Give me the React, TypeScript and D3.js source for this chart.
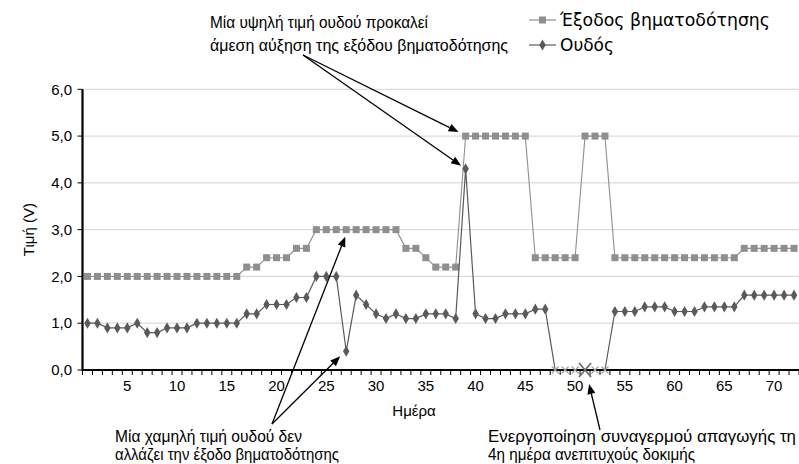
import React from 'react';
import * as d3 from 'd3';

const days: number[] = Array.from({ length: 72 }, (_, i) => i + 1);
const pacingOutput: number[] = [
  2.0, 2.0, 2.0, 2.0, 2.0, 2.0, 2.0, 2.0, 2.0, 2.0, 2.0, 2.0, 2.0, 2.0, 2.0, 2.0,
  2.2, 2.2, 2.4, 2.4, 2.4, 2.6, 2.6,
  3.0, 3.0, 3.0, 3.0, 3.0, 3.0, 3.0, 3.0, 3.0,
  2.6, 2.6, 2.4, 2.2, 2.2, 2.2,
  5.0, 5.0, 5.0, 5.0, 5.0, 5.0, 5.0,
  2.4, 2.4, 2.4, 2.4, 2.4,
  5.0, 5.0, 5.0,
  2.4, 2.4, 2.4, 2.4, 2.4, 2.4, 2.4, 2.4, 2.4, 2.4, 2.4, 2.4, 2.4,
  2.6, 2.6, 2.6, 2.6, 2.6, 2.6,
];
const threshold: number[] = [
  1.0, 1.0, 0.9, 0.9, 0.9, 1.0, 0.8, 0.8, 0.9, 0.9, 0.9, 1.0, 1.0, 1.0, 1.0, 1.0, 1.2, 1.2,
  1.4, 1.4, 1.4, 1.55, 1.55,
  2.0, 2.0, 2.0, 0.4, 1.6, 1.4, 1.2, 1.1, 1.2, 1.1, 1.1, 1.2, 1.2, 1.2, 1.1,
  4.3, 1.2, 1.1, 1.1, 1.2, 1.2, 1.2, 1.3, 1.3,
  0, 0, 0, 0, 0, 0,
  1.25, 1.25, 1.25, 1.35, 1.35, 1.35, 1.25, 1.25, 1.25, 1.35, 1.35, 1.35, 1.35,
  1.6, 1.6, 1.6, 1.6, 1.6, 1.6,
];
const failedDays: number[] = [48, 49, 50, 51, 52, 53];
const alarmDay = 51;
const yTicks: number[] = [0, 1, 2, 3, 4, 5, 6];
const xLabelDays: number[] = [5, 10, 15, 20, 25, 30, 35, 40, 45, 50, 55, 60, 65, 70];
const legendLabels: string[] = ['Έξοδος βηματοδότησης', 'Ουδός'];
const noteHigh: string[] = ['Μία υψηλή τιμή ουδού προκαλεί', 'άμεση αύξηση της εξόδου βηματοδότησης'];
const noteLow: string[] = ['Μία χαμηλή τιμή ουδού δεν', 'αλλάζει την έξοδο βηματοδότησης'];
const noteAlarm: string[] = ['Ενεργοποίηση συναγερμού απαγωγής τη', '4η ημέρα ανεπιτυχούς δοκιμής'];

const W = 799;
const H = 464;
const left = 82.5;
const right = 799;
const top = 89.3;
const bottom = 370;

const FONT = '"Liberation Sans", Arial, sans-serif';
const NARROW = '"Liberation Sans Narrow", "Liberation Sans", sans-serif';
const LEGEND_FONT = '"DejaVu Sans", sans-serif';

const PACE = '#8f8f8f';
const THR = '#5a5a5a';

function Arrow({ x1, y1, x2, y2 }: { x1: number; y1: number; x2: number; y2: number }) {
  const ang = Math.atan2(y2 - y1, x2 - x1);
  const len = 10;
  const half = 4;
  const bx = x2 - len * Math.cos(ang);
  const by = y2 - len * Math.sin(ang);
  const px = -Math.sin(ang) * half;
  const py = Math.cos(ang) * half;
  return (
    <g>
      <line x1={x1} y1={y1} x2={bx} y2={by} stroke="#000" strokeWidth={1.3} />
      <path d={`M${x2},${y2}L${bx + px},${by + py}L${bx - px},${by - py}Z`} fill="#000" />
    </g>
  );
}

function Note({ x, y, text, len }: { x: number; y: number; text: string; len: number }) {
  return (
    <text x={x} y={y} textLength={len} lengthAdjust="spacingAndGlyphs">
      {text}
    </text>
  );
}

export default function App() {
  const x = d3.scaleBand<number>().domain(days).range([left, right]).paddingInner(0).paddingOuter(0);
  const bw = x.bandwidth();
  const cx = (d: number) => (x(d) as number) + bw / 2;
  const y = d3.scaleLinear().domain([0, 6]).range([bottom, top]);

  const line = d3
    .line<number>()
    .x((_, i) => cx(days[i]))
    .y((v) => y(v));

  const diamond = d3.symbol().type(d3.symbolDiamond).size(36)();

  const boundaries = [...days.map((d) => x(d) as number), right];

  return (
    <svg width={W} height={H} style={{ position: 'absolute', left: 0, top: 0, background: '#fff' }}>
      <rect width={W} height={H} fill="#fff" />
      {yTicks.slice(1).map((t) => (
        <line key={t} x1={left} x2={right} y1={y(t)} y2={y(t)} stroke="#dcdcdc" strokeWidth={1.2} />
      ))}

      <path d={line(pacingOutput) as string} fill="none" stroke={PACE} strokeWidth={1.1} />
      {pacingOutput.map((v, i) => (
        <rect key={i} x={cx(days[i]) - 3.5} y={y(v) - 3.5} width={7} height={7} fill={PACE} />
      ))}

      <path d={line(threshold) as string} fill="none" stroke={THR} strokeWidth={1.2} />
      {threshold.map((v, i) =>
        failedDays.includes(days[i]) ? null : (
          <path key={i} d={diamond as string} transform={`translate(${cx(days[i])},${y(v)})`} fill={THR} />
        )
      )}

      <line x1={left} x2={right} y1={bottom} y2={bottom} stroke="#000" strokeWidth={2.2} />
      <line x1={left} x2={left} y1={top} y2={bottom + 1} stroke="#000" strokeWidth={2.2} />
      {boundaries.map((b, i) => (
        <line key={i} x1={b} x2={b} y1={bottom} y2={bottom + 5} stroke="#000" strokeWidth={1} />
      ))}
      {yTicks.map((t) => (
        <line key={t} x1={left - 5} x2={left} y1={y(t)} y2={y(t)} stroke="#000" strokeWidth={1} />
      ))}

      {failedDays
        .filter((d) => d !== alarmDay)
        .map((d) => (
          <g key={d} transform={`translate(${cx(d)},${y(0)})`} stroke="#a0a0a0" strokeWidth={1.1}>
            <line x1={-3.5} y1={-3.5} x2={3.5} y2={3.5} />
            <line x1={-3.5} y1={3.5} x2={3.5} y2={-3.5} />
          </g>
        ))}
      <g transform={`translate(${cx(alarmDay)},${y(0)})`} stroke="#6e6e6e" strokeWidth={1.8}>
        <line x1={-6} y1={-7} x2={6} y2={7} />
        <line x1={-6} y1={7} x2={6} y2={-7} />
      </g>

      {yTicks.map((t) => (
        <text key={t} x={72} y={y(t)} dy="0.35em" textAnchor="end" fontFamily={FONT} fontSize={15} fill="#000">
          {d3.format('.1f')(t).replace('.', ',')}
        </text>
      ))}
      {xLabelDays.map((d) => (
        <text key={d} x={cx(d)} y={391} textAnchor="middle" fontFamily={FONT} fontSize={15} fill="#000">
          {d}
        </text>
      ))}
      <text x={414} y={416} textAnchor="middle" fontFamily={FONT} fontSize={15}>
        Ημέρα
      </text>
      <text transform={`translate(34,${(top + bottom) / 2}) rotate(-90)`} textAnchor="middle" fontFamily={FONT} fontSize={15}>
        Τιμή (V)
      </text>

      <g fontFamily={LEGEND_FONT} fontSize={17}>
        <line x1={529} x2={556} y1={20} y2={20} stroke={PACE} strokeWidth={1.2} />
        <rect x={539} y={16.5} width={7} height={7} fill={PACE} />
        <text x={560} y={20} dy="0.35em" textLength={210} lengthAdjust="spacingAndGlyphs">{legendLabels[0]}</text>
        <line x1={529} x2={556} y1={45} y2={45} stroke={THR} strokeWidth={1.2} />
        <path d={diamond as string} transform="translate(542.5,45)" fill={THR} />
        <text x={560} y={45} dy="0.35em">{legendLabels[1]}</text>
      </g>

      <g fontFamily={NARROW} fontSize={17}>
        <Note x={210} y={28} text={noteHigh[0]} len={218} />
        <Note x={210} y={51} text={noteHigh[1]} len={298} />
        <Note x={115} y={442} text={noteLow[0]} len={187} />
        <Note x={115} y={460} text={noteLow[1]} len={224} />
        <Note x={488} y={442} text={noteAlarm[0]} len={308} />
        <Note x={488} y={460} text={noteAlarm[1]} len={207} />
      </g>

      <Arrow x1={303} y1={55} x2={cx(39) - 7} y2={y(pacingOutput[38]) - 4} />
      <Arrow x1={303} y1={55} x2={cx(39) - 4.5} y2={y(threshold[38]) - 3} />
      <Arrow x1={272} y1={424} x2={cx(27) - 1} y2={y(pacingOutput[26]) + 7} />
      <Arrow x1={272} y1={424} x2={cx(27) - 6} y2={y(threshold[26]) + 5} />
      <Arrow x1={600} y1={430} x2={cx(alarmDay) + 4} y2={y(0) + 14} />
    </svg>
  );
}
